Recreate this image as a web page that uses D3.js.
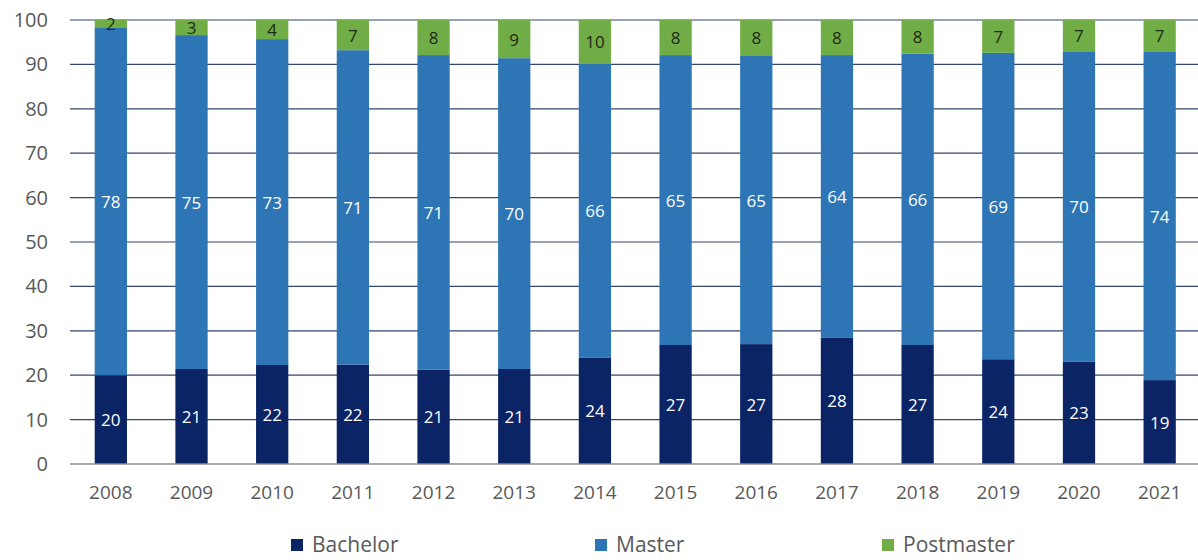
<!DOCTYPE html>
<html><head><meta charset="utf-8">
<script src="https://cdn.jsdelivr.net/npm/d3@7"></script>
<style>body{margin:0;background:#fff}svg{display:block;font-family:"Open Sans","Noto Sans",sans-serif}</style>
</head><body><svg id="c" width="1198" height="560"></svg>
<script>
const years = ["2008","2009","2010","2011","2012","2013","2014","2015","2016","2017","2018","2019","2020","2021"];
const bachelor = [20.0,21.4,22.3,22.4,21.2,21.4,23.9,26.8,27.0,28.4,26.8,23.6,23.0,18.9];
const master = [78.2,75.2,73.4,70.8,70.9,70.0,66.2,65.3,64.9,63.7,65.6,69.0,69.8,73.9];
const postmaster = [1.8,3.4,4.3,6.8,7.9,8.6,9.9,7.9,8.1,7.9,7.6,7.4,7.2,7.2];
const yTicks = [0,10,20,30,40,50,60,70,80,90,100];
const seriesNames = ["Bachelor","Master","Postmaster"];
const colors = ["#0b2465","#2e75b6","#70ad47"];
const labelColors = ["#ffffff","#ffffff","#1e2a14"];

const svg = d3.select("#c");
const x = d3.scaleBand().domain(years).range([70.5,1200]).paddingInner(0.6).paddingOuter(0.3);
const y = d3.scaleLinear().domain([0,100]).range([464,20]);

// grid
svg.append("g").selectAll("line").data(yTicks.filter(d=>d>0)).join("line")
  .attr("x1",70).attr("x2",1198).attr("y1",d=>y(d)).attr("y2",d=>y(d))
  .attr("stroke","#33466e").attr("stroke-width",1.2);

const rows = years.map((yr,i)=>({year:yr,Bachelor:bachelor[i],Master:master[i],Postmaster:postmaster[i]}));
const stack = d3.stack().keys(seriesNames)(rows);

const g = svg.append("g");
stack.forEach((s,si)=>{
  g.append("g").selectAll("rect").data(s).join("rect")
    .attr("x",d=>x(d.data.year)).attr("width",x.bandwidth())
    .attr("y",d=>y(d[1])).attr("height",d=>y(d[0])-y(d[1]))
    .attr("fill",colors[si]);
});
// zero line
svg.append("line").attr("x1",70).attr("x2",1198).attr("y1",y(0)).attr("y2",y(0))
  .attr("stroke","#8c8c8c").attr("stroke-width",1.5);

stack.forEach((s,si)=>{
  g.append("g").selectAll("text").data(s).join("text")
    .attr("x",d=>x(d.data.year)+x.bandwidth()/2)
    .attr("y",d=>(y(d[0])+y(d[1]))/2)
    .attr("text-anchor","middle").attr("dominant-baseline","central")
    .attr("font-size",17).attr("fill",labelColors[si])
    .text(d=>Math.round(d[1]-d[0]));
});

// y axis
const ya = svg.append("g").attr("transform","translate(56,0)")
  .call(d3.axisLeft(y).tickValues(yTicks).tickSize(0).tickPadding(8));
ya.select(".domain").remove();
ya.selectAll("text").attr("font-size",20).attr("fill","#595959").attr("font-family","'Open Sans',sans-serif");

// x axis
const xa = svg.append("g").attr("transform","translate(0,464)")
  .call(d3.axisBottom(x).tickSize(0).tickPadding(22));
xa.select(".domain").remove();
xa.selectAll("text").attr("font-size",19).attr("fill","#595959").attr("font-family","'Open Sans',sans-serif");

// legend
const legX = [291,595,882];
const leg = svg.append("g").selectAll("g").data(seriesNames).join("g")
  .attr("transform",(d,i)=>`translate(${legX[i]},545)`);
leg.append("rect").attr("x",0).attr("y",-6).attr("width",12).attr("height",12).attr("fill",(d,i)=>colors[i]);
leg.append("text").attr("x",21).attr("y",0).attr("dy","0.35em")
  .attr("font-size",21).attr("fill","#595959").text(d=>d);
</script></body></html>
